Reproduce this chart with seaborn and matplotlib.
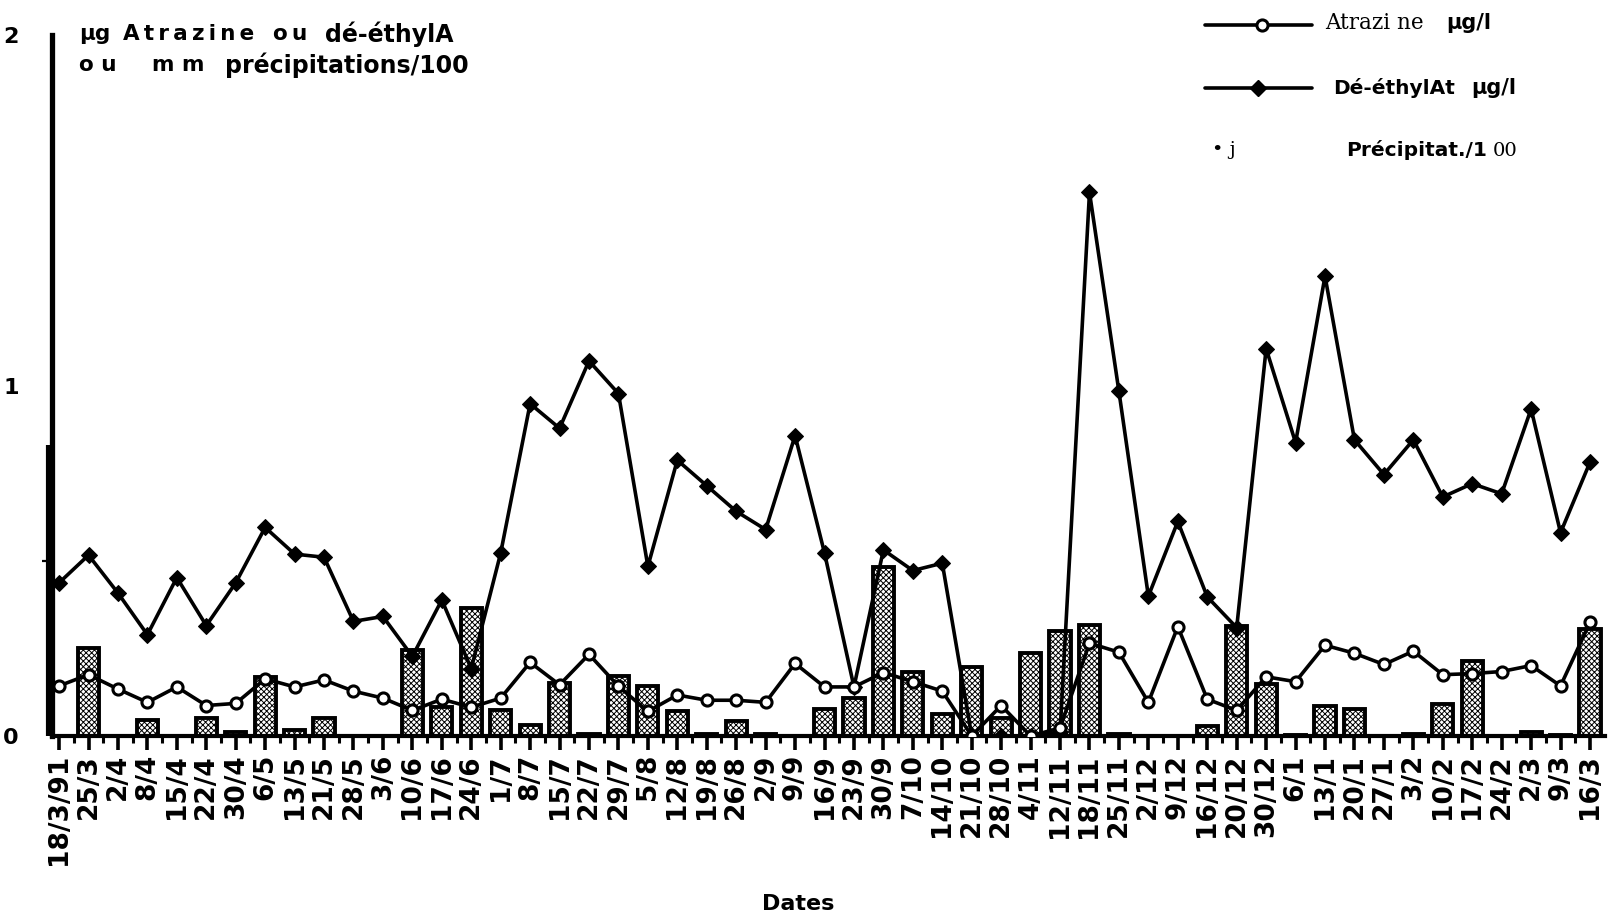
import numpy as np
import matplotlib
matplotlib.use("Agg")
import matplotlib.pyplot as plt
import matplotlib.transforms as mtransforms
from matplotlib.lines import Line2D
import seaborn as sns

# --- Data ---
dates = [
    "18/3/91", "25/3", "2/4", "8/4", "15/4", "22/4", "30/4", "6/5", "13/5", "21/5",
    "28/5", "3/6", "10/6", "17/6", "24/6", "1/7", "8/7", "15/7", "22/7", "29/7",
    "5/8", "12/8", "19/8", "26/8", "2/9", "9/9", "16/9", "23/9", "30/9", "7/10",
    "14/10", "21/10", "28/10", "4/11", "12/11", "18/11", "25/11", "2/12", "9/12", "16/12",
    "20/12", "30/12", "6/1", "13/1", "20/1", "27/1", "3/2", "10/2", "17/2", "24/2",
    "2/3", "9/3", "16/3",
]

# Atrazine, µg/l (open circles)
atrazine = [
    0.143, 0.175, 0.134, 0.096, 0.140, 0.087, 0.093, 0.163, 0.140, 0.160,
    0.128, 0.108, 0.073, 0.105, 0.082, 0.108, 0.210, 0.146, 0.233, 0.142,
    0.070, 0.117, 0.102, 0.102, 0.096, 0.207, 0.140, 0.140, 0.181, 0.155,
    0.128, 0.000, 0.087, 0.000, 0.023, 0.265, 0.239, 0.096, 0.312, 0.105,
    0.073, 0.169, 0.155, 0.259, 0.236, 0.204, 0.242, 0.175, 0.178, 0.184,
    0.201, 0.143, 0.324,
]

# Dé-éthylatrazine, µg/l (filled diamonds)
deethyl = [
    0.437, 0.516, 0.408, 0.289, 0.452, 0.315, 0.437, 0.595, 0.519, 0.510,
    0.327, 0.341, 0.227, 0.388, 0.192, 0.522, 0.948, 0.878, 1.070, 0.977,
    0.484, 0.787, 0.714, 0.641, 0.589, 0.857, 0.522, 0.140, 0.531, 0.472,
    0.493, 0.000, 0.000, 0.000, 0.010, 1.551, 0.983, 0.399, 0.612, 0.397,
    0.309, 1.105, 0.837, 1.312, 0.845, 0.746, 0.845, 0.682, 0.720, 0.691,
    0.933, 0.580, 0.781,
]

# Précipitations, mm / 100 (stippled bars)
precip = [
    0.000, 0.251, 0.000, 0.047, 0.000, 0.052, 0.012, 0.169, 0.017, 0.050,
    0.000, 0.000, 0.245, 0.082, 0.364, 0.073, 0.032, 0.152, 0.006, 0.172,
    0.143, 0.070, 0.006, 0.044, 0.006, 0.000, 0.076, 0.108, 0.481, 0.184,
    0.064, 0.198, 0.052, 0.236, 0.300, 0.318, 0.006, 0.000, 0.000, 0.029,
    0.315, 0.149, 0.003, 0.085, 0.076, 0.000, 0.005, 0.090, 0.213, 0.000,
    0.010, 0.003, 0.306,
]

y_ticks = [0, 1, 2]
y_minor = [0.5]
# the scan shows a doubled y-axis line from 0 up to about this value
axis_double_top = 0.83

W, H = 1611, 923
THIN = "\u2009"


def setup_style():
    sns.set_style("white")
    plt.rcParams["font.family"] = ["DejaVu Sans"]
    for key in ["text.color", "axes.labelcolor", "xtick.color",
                "ytick.color", "axes.edgecolor"]:
        plt.rcParams[key] = "black"
    plt.rcParams["hatch.linewidth"] = 0.7


def fx(px):
    # pixel column -> figure fraction
    return px / W


def fy(py):
    # pixel row (from top) -> figure fraction
    return 1 - py / H


def spaced(word):
    # letter-spaced word, like the caption of the scan
    return THIN.join(word)


def draw_chart():
    fig = plt.figure(figsize=(W / 100, H / 100), dpi=100)
    ax = fig.add_axes([fx(52), fy(736), fx(1605 - 52), (736 - 35) / H])

    pos = np.arange(len(dates))

    # precipitation bars
    sns.barplot(x=dates, y=precip, order=dates, ax=ax, width=0.72,
                color="white", saturation=1, edgecolor="black",
                linewidth=2.8, hatch="xxxxxx", zorder=2)

    # concentration lines
    sns.lineplot(x=pos, y=deethyl, ax=ax, color="black", linewidth=2.6,
                 marker="D", markersize=8.5, markerfacecolor="black",
                 markeredgecolor="black", zorder=4)
    sns.lineplot(x=pos, y=atrazine, ax=ax, color="black", linewidth=2.6,
                 marker="o", markersize=8, markerfacecolor="white",
                 markeredgecolor="black", markeredgewidth=2.2, zorder=5)

    ax.set_xlim(-0.24, len(dates) - 0.49)
    ax.set_ylim(0, 2)

    # axes and ticks
    sns.despine(ax=ax)
    ax.spines["left"].set_linewidth(3.8)
    ax.spines["bottom"].set_linewidth(3.0)
    shift = mtransforms.blended_transform_factory(ax.transAxes, ax.transData) + \
        mtransforms.ScaledTranslation(-4 / 100, 0, fig.dpi_scale_trans)
    ax.vlines(0, 0, axis_double_top, transform=shift, color="black",
              linewidth=3, clip_on=False)

    ax.set_xticks(pos)
    ax.set_xticks(pos[:-1] + 0.5, minor=True)
    ax.set_xticklabels(dates, rotation=90, fontsize=19, fontweight="bold")
    ax.set_yticks(y_ticks)
    ax.set_yticks(y_minor, minor=True)
    ax.set_yticklabels([str(t) for t in y_ticks], fontsize=16, fontweight="bold")
    ax.tick_params(axis="x", which="major", direction="out", length=10,
                   width=2.6, pad=3, bottom=True)
    ax.tick_params(axis="x", which="minor", direction="out", length=5,
                   width=2.2, bottom=True)
    ax.tick_params(axis="y", which="major", direction="out", length=0, pad=24)
    ax.tick_params(axis="y", which="minor", direction="out", length=7,
                   width=1.6, left=True)
    ax.set_xlabel("")
    ax.set_ylabel("")
    fig.text(fx(798), fy(904), "Dates", ha="center", va="center",
             fontsize=16, fontweight="bold")

    # y-axis caption, top left (word by word, like the scan)
    cap = dict(ha="left", va="center", fontweight="bold")
    fig.text(fx(79), fy(34), "µg", fontsize=15.5, **cap)
    fig.text(fx(123), fy(34), spaced("Atrazine"), fontsize=15.5, **cap)
    fig.text(fx(273), fy(34), spaced("ou"), fontsize=15.5, **cap)
    fig.text(fx(325), fy(34), "dé-éthylA", fontsize=17, **cap)
    fig.text(fx(79), fy(65), "o u", fontsize=15.5, **cap)
    fig.text(fx(152), fy(65), "m m", fontsize=15.5, **cap)
    fig.text(fx(225), fy(65), "précipitations/100", fontsize=17, **cap)

    # legend, drawn by hand like the original
    fig.add_artist(Line2D([fx(1205), fx(1312)], [fy(25)] * 2,
                          transform=fig.transFigure, color="black", lw=2.6))
    fig.add_artist(Line2D([fx(1262)], [fy(25)], transform=fig.transFigure,
                          marker="o", ms=8, mfc="white", mec="black", mew=2.2))
    fig.text(fx(1325), fy(23), "Atrazi ne", family="DejaVu Serif",
             fontsize=15.5, ha="left", va="center")
    fig.text(fx(1446), fy(23), "µg/l", fontsize=15, fontweight="bold",
             ha="left", va="center")

    fig.add_artist(Line2D([fx(1205), fx(1312)], [fy(88)] * 2,
                          transform=fig.transFigure, color="black", lw=2.6))
    fig.add_artist(Line2D([fx(1258)], [fy(88)], transform=fig.transFigure,
                          marker="D", ms=8.5, mfc="black", mec="black"))
    fig.text(fx(1333), fy(88), "Dé-éthylAt", fontsize=14.5, fontweight="bold",
             ha="left", va="center")
    fig.text(fx(1471), fy(88), "µg/l", fontsize=15, fontweight="bold",
             ha="left", va="center")

    fig.text(fx(1212), fy(150), "• j", family="DejaVu Serif", fontsize=14,
             ha="left", va="center")
    fig.text(fx(1346), fy(150), "Précipitat./1", fontsize=14.5,
             fontweight="bold", ha="left", va="center")
    fig.text(fx(1493), fy(151), "00", family="DejaVu Serif", fontsize=14,
             ha="left", va="center")

    fig.savefig("out.png", dpi=100)
    plt.close(fig)


def main():
    setup_style()
    draw_chart()


if __name__ == "__main__":
    main()
